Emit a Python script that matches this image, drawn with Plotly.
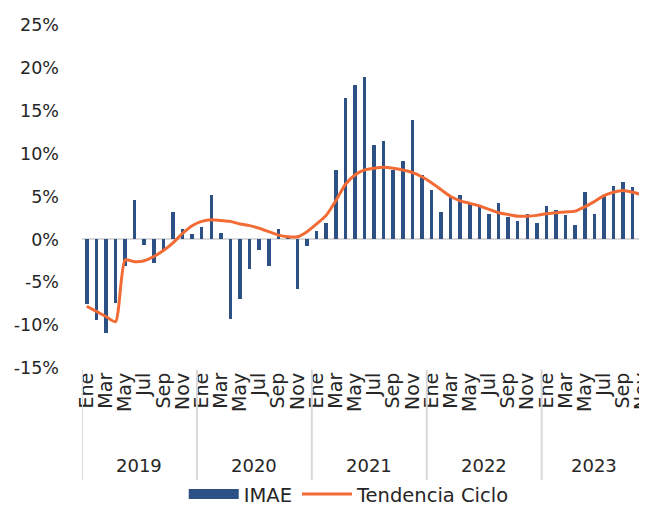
import plotly.graph_objects as go

years = ["2019", "2020", "2021", "2022", "2023"]
months = ["Ene", "Feb", "Mar", "Abr", "May", "Jun", "Jul", "Ago", "Sep", "Oct", "Nov", "Dic"]
months_per_year = [12, 12, 12, 12, 11]

imae = [
    -7.5, -9.4, -10.9, -7.4, -3.1, 4.6, -0.7, -2.8, -1.3, 3.2, 1.2, 0.6,
    1.4, 5.2, 0.8, -9.3, -6.9, -3.5, -1.2, -3.1, 1.2, 0.3, -5.8, -0.8,
    1.0, 1.9, 8.1, 16.5, 18.0, 18.9, 11.0, 11.5, 8.1, 9.1, 13.9, 7.5,
    5.8, 3.2, 5.0, 5.2, 4.3, 4.0, 3.0, 4.3, 2.6, 2.1, 3.0, 1.9,
    3.9, 3.4, 2.8, 1.7, 5.5, 3.0, 5.2, 6.2, 6.7, 6.1, 4.3,
]
tendencia = [
    -7.8, -8.4, -9.0, -9.6, -2.4, -2.6, -2.5, -2.0, -1.3, -0.4, 0.7, 1.6,
    2.1, 2.3, 2.2, 2.1, 1.8, 1.6, 1.3, 0.9, 0.5, 0.3, 0.3, 0.9,
    1.8, 2.8, 4.5, 6.4, 7.5, 8.1, 8.3, 8.4, 8.3, 8.1, 7.8, 7.3,
    6.6, 5.8, 5.0, 4.5, 4.2, 3.9, 3.5, 3.1, 2.9, 2.7, 2.7, 2.8,
    3.0, 3.1, 3.2, 3.3, 3.8, 4.4, 5.1, 5.5, 5.7, 5.5, 5.2,
]
y_tick_vals = [-15, -10, -5, 0, 5, 10, 15, 20, 25]
y_tick_text = ["-15%", "-10%", "-5%", "0%", "5%", "10%", "15%", "20%", "25%"]

# build month index and labels
x = []
month_labels = []
idx = 0
year_starts = []
for yr, n in zip(years, months_per_year):
    year_starts.append(idx)
    for m in range(n):
        x.append(idx)
        month_labels.append(months[m])
        idx += 1
n_total = idx

tickvals = [i for i in x if i % 2 == 0]
ticktext = [month_labels[i] for i in tickvals]

FONT = "DejaVu Sans"
BLUE = "#2D5085"
ORANGE = "#F26B35"
fig = go.Figure()
fig.add_trace(go.Bar(x=x, y=[v / 100 for v in imae], name="IMAE", showlegend=False,
                     marker=dict(color=BLUE, line=dict(width=0)), width=0.37))
# legend swatch for the bars (wide rectangle like the reference)
fig.add_trace(go.Scatter(x=[None], y=[None], name="IMAE", mode="lines",
                         line=dict(color=BLUE, width=16)))
fig.add_trace(go.Scatter(x=x, y=[v / 100 for v in tendencia], name="Tendencia Ciclo",
                         mode="lines", line=dict(color=ORANGE, width=3, shape="spline", smoothing=0.6)))

# year separators and labels
bounds = year_starts + [n_total]
for i, yr in enumerate(years):
    s, e = bounds[i], bounds[i + 1]
    fig.add_annotation(x=(s + e - 1) / 2, y=-0.283, xref="x", yref="paper", text=yr,
                       showarrow=False, font=dict(size=18, color="#262626", family=FONT),
                       yanchor="middle")
    fig.add_shape(type="line", xref="x", yref="paper", x0=s - 0.5, x1=s - 0.5,
                  y0=-0.005, y1=-0.327, line=dict(color="#D9D9D9", width=2))

# page body has an 8px margin, so the figure is 8px smaller than the window
fig.update_layout(
    width=639, height=500,
    margin=dict(l=74, r=0, t=17, b=140, autoexpand=False),
    paper_bgcolor="white", plot_bgcolor="white",
    font=dict(family=FONT, size=17, color="#262626"),
    bargap=0,
    showlegend=True,
    legend=dict(orientation="h", x=0.473, y=-0.368, xanchor="center", yanchor="middle",
                font=dict(size=19.5, family=FONT, color="#262626"), itemwidth=50,
                traceorder="normal", bgcolor="rgba(0,0,0,0)"),
    xaxis=dict(range=[-0.5, n_total - 0.5], tickmode="array", tickvals=tickvals,
               ticktext=ticktext, tickangle=-90, showgrid=False, zeroline=False,
               showline=False, ticks="", ticklabeloverflow="allow", automargin=False,
               tickfont=dict(size=19, family=FONT)),
    yaxis=dict(range=[-0.15, 0.25], tickmode="array", tickvals=[v / 100 for v in y_tick_vals],
               ticktext=y_tick_text, showgrid=False, zeroline=True, zerolinecolor="#D9D9D9",
               zerolinewidth=2, showline=False, ticks="", ticklabelstandoff=22,
               automargin=False, tickfont=dict(size=17.5, family=FONT)),
)

fig.write_html("out.html")
